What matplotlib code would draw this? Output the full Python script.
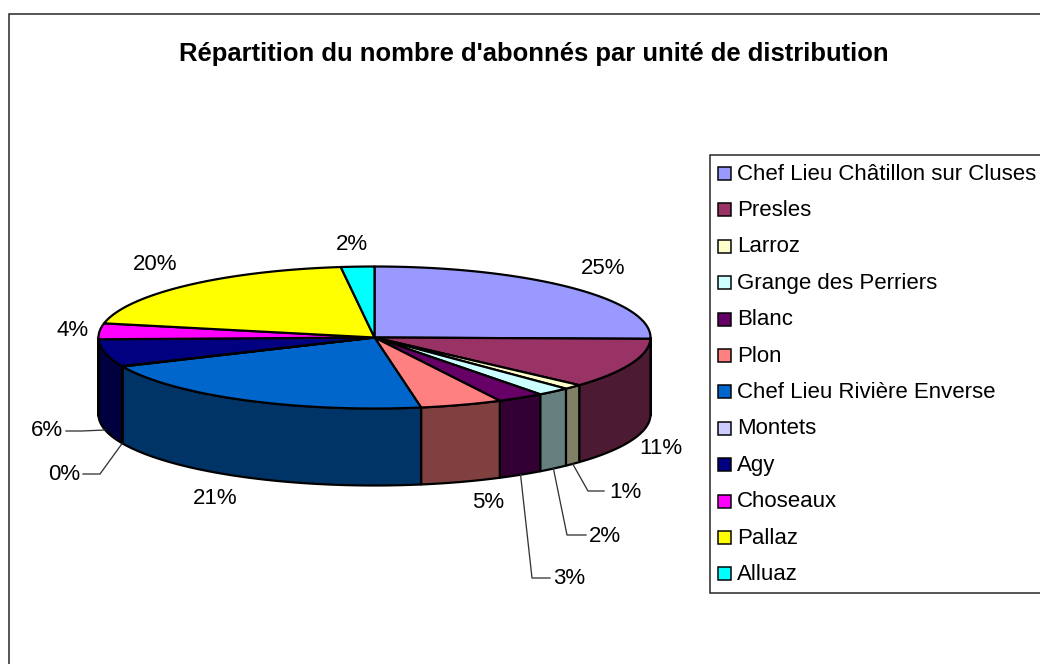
import numpy as np
import matplotlib
matplotlib.use("Agg")
import matplotlib.pyplot as plt
from matplotlib.patches import Polygon, Rectangle
from matplotlib.colors import to_rgb

plt.rcParams['font.family'] = ['Liberation Sans', 'DejaVu Sans']

title = "Répartition du nombre d'abonnés par unité de distribution"
categories = ["Chef Lieu Châtillon sur Cluses", "Presles", "Larroz", "Grange des Perriers",
              "Blanc", "Plon", "Chef Lieu Rivière Enverse", "Montets", "Agy", "Choseaux",
              "Pallaz", "Alluaz"]
values = [25.3, 11.4, 1.1, 1.95, 2.75, 4.8, 21.0, 0.1, 6.2, 3.6, 19.85, 1.95]
colors = ["#9999FF", "#993366", "#FFFFCC", "#CCFFFF", "#660066", "#FF8080",
          "#0066CC", "#CCCCFF", "#000080", "#FF00FF", "#FFFF00", "#00FFFF"]

# layout, in pixels of the 1040x664 canvas
CX, CY, RX, RY, DEPTH = 374.5, 337.5, 276.0, 71.0, 77.0
label_pos = [(603, 269), (661, 448), (625, 492), (605, 536), (569, 579), (488, 503),
             (215, 498), (64, 475), (47, 431), (73, 330), (155, 264), (352, 245)]
leader_elbow = {2: [(588, 491), (604, 491)], 3: [(567, 535), (586, 535)],
                4: [(532, 578), (550, 578)], 7: [(100, 474), (83, 474)],
                8: [(82, 431), (66, 431)]}
FS = 22.3 * 0.72
PX = 0.72

fig = plt.figure(figsize=(10.4, 6.64), dpi=100, facecolor="white")
ax = fig.add_axes([0, 0, 1, 1])
ax.set_xlim(0, 1040)
ax.set_ylim(664, 0)
ax.axis("off")

# chart frame (runs off the right and bottom of the picture)
ax.add_patch(Rectangle((9.0, 14.0), 1200, 800, fc="white", ec="#222222", lw=1.5 * PX, zorder=0))


def rim(t, dy=0.0):
    t = np.asarray(t)
    return np.column_stack([CX + RX * np.sin(t), CY + dy - RY * np.cos(t)])


fractions = np.array(values) / sum(values)
edges = np.concatenate([[0.0], np.cumsum(fractions)]) * 2 * np.pi
ec_kw = dict(ec="black", lw=2.2 * PX, joinstyle="round")

# side walls: only the front half of the cylinder is visible
for i, col in enumerate(colors):
    a, b = max(edges[i], np.pi / 2), min(edges[i + 1], 3 * np.pi / 2)
    if b <= a:
        continue
    t = np.linspace(a, b, 80)
    dark = tuple(c * 0.5 for c in to_rgb(col))
    pts = np.vstack([rim(t), rim(t[::-1], DEPTH)])
    ax.add_patch(Polygon(pts, closed=True, fc=dark, zorder=2, **ec_kw))

# top faces
for i, col in enumerate(colors):
    t = np.linspace(edges[i], edges[i + 1], 120)
    pts = np.vstack([[(CX, CY)], rim(t)])
    ax.add_patch(Polygon(pts, closed=True, fc=col, zorder=3, **ec_kw))

# percentage labels and leaders
for i, v in enumerate(values):
    ax.text(*label_pos[i], f"{round(v)}%", fontsize=FS, ha="center", va="center",
            color="black", zorder=5)
    if i in leader_elbow:
        mid = (edges[i] + edges[i + 1]) / 2
        start = rim([mid], DEPTH)[0]
        xy = np.vstack([start, leader_elbow[i]])
        ax.plot(xy[:, 0], xy[:, 1], color="#333333", lw=1.3 * PX, zorder=4)

ax.text(533.5, 54.5, title, fontsize=25.6 * 0.72, fontweight="bold", ha="center", va="center")

# legend
LEFT, TOP, BOTTOM = 709.5, 154.5, 592.5
ax.add_patch(Rectangle((LEFT, TOP), 600, BOTTOM - TOP, fc="white", ec="#222222", lw=1.5 * PX, zorder=1))
row_h = 36.4
for i, (name, col) in enumerate(zip(categories, colors)):
    yc = 173.5 + i * row_h
    ax.add_patch(Rectangle((717.5, yc - 6.5), 13, 13, fc=col, ec="black", lw=1.5 * PX, zorder=2))
    ax.text(737, yc + 0.5, name, fontsize=FS, ha="left", va="center", color="black", zorder=5)

fig.savefig("out.png", dpi=100)
